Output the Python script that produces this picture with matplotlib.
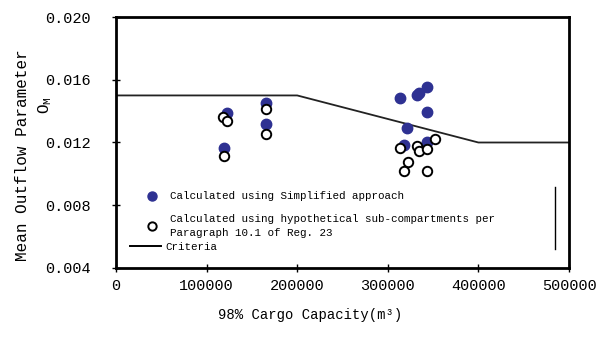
import numpy as np
import matplotlib
matplotlib.use('Agg')
import matplotlib.pyplot as plt
from matplotlib.lines import Line2D

plt.rcParams['font.family'] = ['Liberation Mono', 'DejaVu Sans Mono']

## dati: capacita' (m3) e parametro di efflusso medio
# approccio semplificato
cap_simp = [122000, 119500, 166000, 165500, 313000, 332500, 334700,
            343000, 343000, 321500, 318000, 343000]
om_simp = [0.01386, 0.01163, 0.01450, 0.01316, 0.01482, 0.01503, 0.01517,
           0.01552, 0.01393, 0.01294, 0.01184, 0.01205]

# sotto-compartimenti ipotetici
cap_sub = [117700, 122000, 119500, 166000, 166000, 314000, 332500, 334000,
           343000, 352000, 322000, 318000, 343000]
om_sub = [0.01365, 0.01339, 0.01114, 0.01412, 0.01254, 0.01163, 0.01178,
          0.01146, 0.01157, 0.01222, 0.01076, 0.01018, 0.01018]

# criterio
cap_crit = [0, 200000, 400000, 500000]
om_crit = [0.015, 0.015, 0.012, 0.012]

xticks = [0, 100000, 200000, 300000, 400000, 500000]
yticks = [0.004, 0.008, 0.012, 0.016, 0.020]

blu = '#2e3192'

## figura
fig = plt.figure(figsize=(6.05, 3.47), dpi=100)
ax = fig.add_axes([0.1917, 0.2277, 0.7488, 0.7233])

ax.plot(cap_crit, om_crit, color='#222222', lw=1.3, zorder=1)
ax.plot(cap_simp, om_simp, linestyle='', marker='o', ms=7.5,
        mfc=blu, mec=blu, zorder=2)
ax.plot(cap_sub, om_sub, linestyle='', marker='o', ms=6.8,
        mfc='white', mec='black', mew=1.4, zorder=3)

ax.set_xlim(0, 500000)
ax.set_ylim(0.004, 0.020)
ax.set_xticks(xticks)
ax.set_xticklabels([str(v) for v in xticks])
ax.set_yticks(yticks)
ax.set_yticklabels(['%.3f' % v for v in yticks])
ax.tick_params(direction='inout', length=6, width=1, labelsize=11,
               colors='black')
ax.tick_params(axis='x', pad=5)
ax.tick_params(axis='y', pad=15)
for s in ax.spines.values():
    s.set_linewidth(2)

ax.set_xlabel('98% Cargo Capacity(m³)', fontsize=10)
ax.xaxis.set_label_coords(0.428, -0.16)
ax.set_ylabel('Mean Outflow Parameter', fontsize=11.5)
ax.yaxis.set_label_coords(-0.19, 0.45)
ax.text(-0.157, 0.65, r'O$_{\mathregular{M}}$', transform=ax.transAxes,
        rotation=90, ha='center', va='center', fontsize=11.5)

# legenda
h1 = Line2D([], [], linestyle='', marker='o', ms=6.5, mfc=blu, mec=blu)
h2 = Line2D([], [], linestyle='', marker='o', ms=6, mfc='white',
            mec='black', mew=1.4)
leg1 = ax.legend([h1, h2],
                 ['Calculated using Simplified approach',
                  'Calculated using hypothetical sub-compartments per\n'
                  'Paragraph 10.1 of Reg. 23'],
                 loc='upper left', bbox_to_anchor=(0.045, 0.305),
                 frameon=False, fontsize=7.8, handlelength=2.9,
                 handletextpad=0.2, labelspacing=1.2, borderpad=0,
                 borderaxespad=0)
for t in leg1.get_texts():
    t.set_linespacing(1.4)
ax.add_artist(leg1)
h3 = Line2D([], [], color='black', lw=1.4)
ax.legend([h3], ['Criteria'], loc='upper left',
          bbox_to_anchor=(0.03, 0.105), frameon=False, fontsize=7.8,
          handlelength=2.9, handletextpad=0.4, borderpad=0,
          borderaxespad=0)
ax.plot([0.969, 0.969], [0.076, 0.323], color='black', lw=1,
        transform=ax.transAxes)

fig.savefig('out.png', dpi=100)
